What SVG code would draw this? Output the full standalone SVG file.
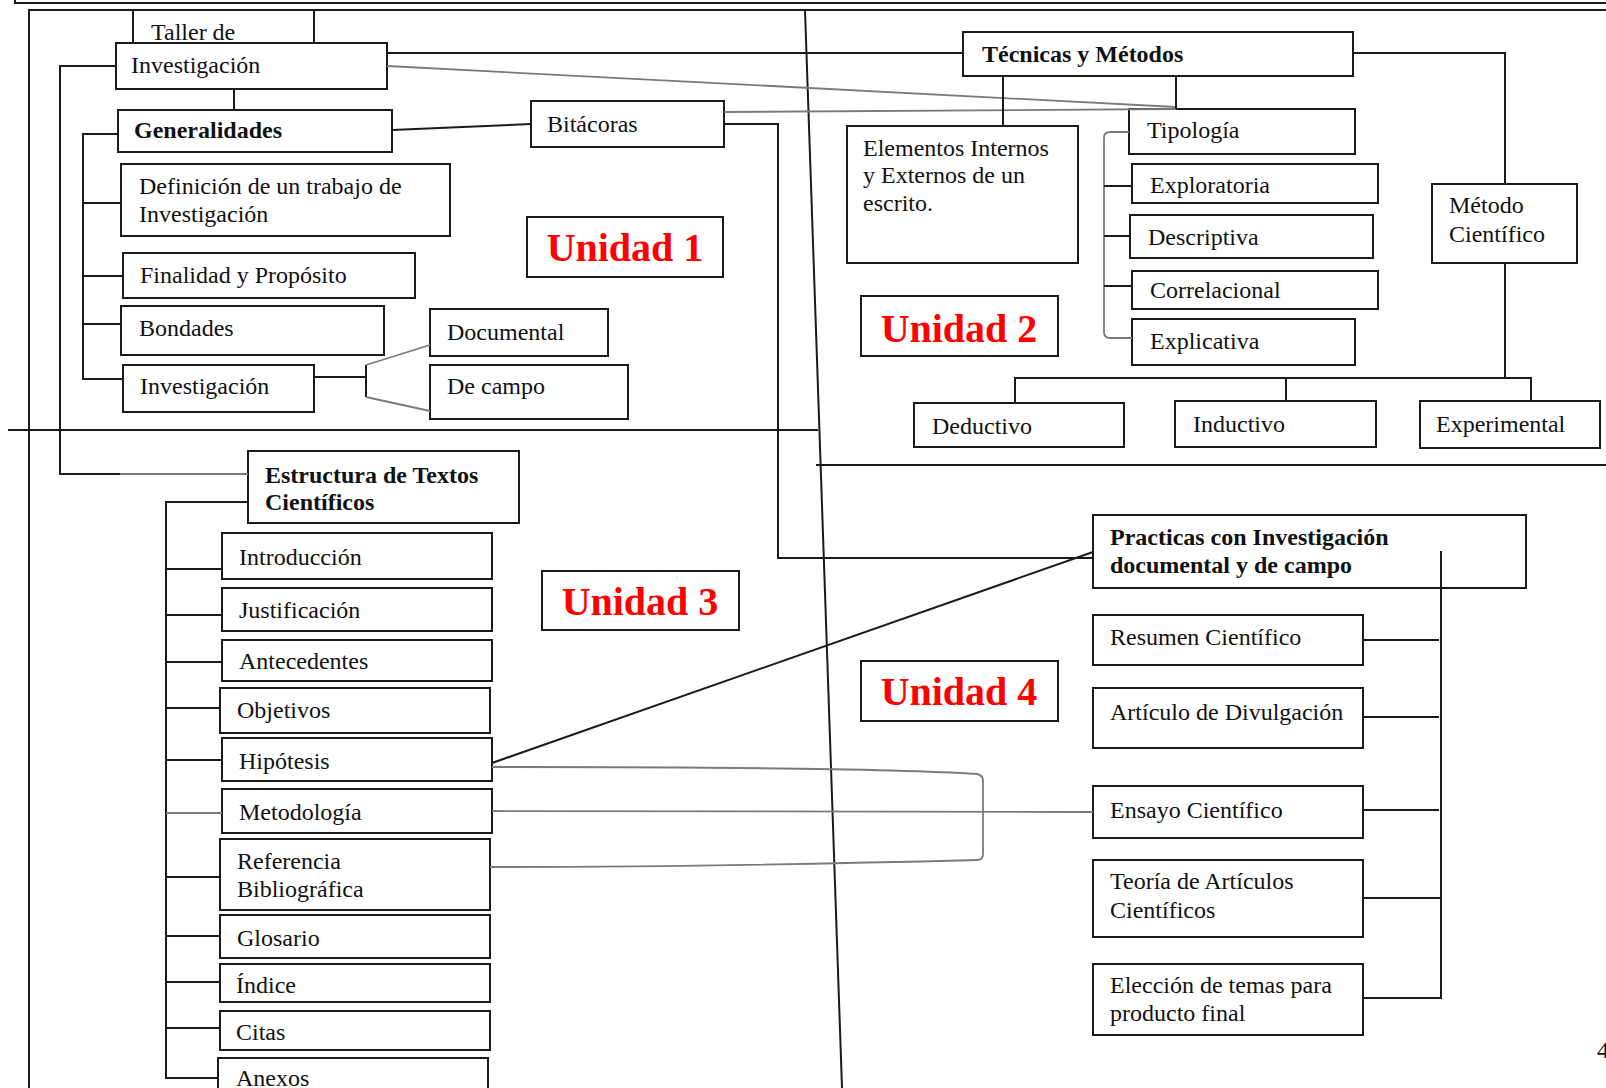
<svg xmlns="http://www.w3.org/2000/svg" width="1606" height="1088" viewBox="0 0 1606 1088">
<style>
.box{fill:#fff;stroke:#1a1a1a;stroke-width:2}
.t{font-family:"Liberation Serif","Times New Roman",serif;font-size:24px;fill:#111}
.b{font-weight:bold}
.u{font-family:"Liberation Serif","Times New Roman",serif;font-size:40px;font-weight:bold;fill:#ff0000;text-anchor:middle}
.ln{stroke:#1a1a1a;stroke-width:2;fill:none}
.gl{stroke:#7a7a7a;stroke-width:1.8;fill:none}
</style>
<rect x="0" y="0" width="1606" height="1088" fill="#fff"/>
<g id="frame">
<path class="ln" d="M15 0 V3 H1606"/>
<path class="ln" d="M29 1088 V10 H1606"/>
<path class="ln" d="M8 430 H818"/>
<path class="ln" d="M816 465 H1606"/>
<path class="ln" d="M805 10 L842 1088" stroke-width="1.6"/>
</g>
<g id="taller">
<rect class="box" x="133" y="10" width="181" height="50"/>
<text class="t" x="151" y="40">Taller de</text>
</g>
<g id="investigacion">
<rect class="box" x="116" y="43" width="271" height="46"/>
<text class="t" x="131" y="73">Investigación</text>
</g>
<g id="generalidades">
<rect class="box" x="118" y="110" width="274" height="42"/>
<text class="t b" x="134" y="138">Generalidades</text>
</g>
<g id="bitacoras">
<rect class="box" x="531" y="101" width="193" height="46"/>
<text class="t" x="547" y="132">Bitácoras</text>
</g>
<g id="definicion">
<rect class="box" x="121" y="164" width="329" height="72"/>
<text class="t" x="139" y="194">Definición de un trabajo de</text>
<text class="t" x="139" y="222">Investigación</text>
</g>
<g id="finalidad">
<rect class="box" x="123" y="253" width="292" height="45"/>
<text class="t" x="140" y="283">Finalidad y Propósito</text>
</g>
<g id="bondades">
<rect class="box" x="121" y="306" width="263" height="49"/>
<text class="t" x="139" y="336">Bondades</text>
</g>
<g id="investigacion2">
<rect class="box" x="123" y="365" width="191" height="47"/>
<text class="t" x="140" y="394">Investigación</text>
</g>
<g id="documental">
<rect class="box" x="430" y="309" width="178" height="47"/>
<text class="t" x="447" y="340">Documental</text>
</g>
<g id="decampo">
<rect class="box" x="430" y="365" width="198" height="54"/>
<text class="t" x="447" y="394">De campo</text>
</g>
<g id="unidad1">
<rect class="box" x="527" y="217" width="196" height="60"/>
<text class="u" x="625" y="261">Unidad 1</text>
</g>
<g id="tecnicas">
<rect class="box" x="963" y="32" width="390" height="44"/>
<text class="t b" x="982" y="62">Técnicas y Métodos</text>
</g>
<g id="elementos">
<rect class="box" x="847" y="126" width="231" height="137"/>
<text class="t" x="863" y="156">Elementos Internos</text>
<text class="t" x="863" y="183">y Externos de un</text>
<text class="t" x="863" y="211">escrito.</text>
</g>
<g id="tipologia">
<rect class="box" x="1129" y="109" width="226" height="45"/>
<text class="t" x="1147" y="138">Tipología</text>
</g>
<g id="exploratoria">
<rect class="box" x="1132" y="164" width="246" height="39"/>
<text class="t" x="1150" y="193">Exploratoria</text>
</g>
<g id="descriptiva">
<rect class="box" x="1130" y="215" width="243" height="43"/>
<text class="t" x="1148" y="245">Descriptiva</text>
</g>
<g id="correlacional">
<rect class="box" x="1132" y="271" width="246" height="38"/>
<text class="t" x="1150" y="298">Correlacional</text>
</g>
<g id="explicativa">
<rect class="box" x="1132" y="319" width="223" height="46"/>
<text class="t" x="1150" y="349">Explicativa</text>
</g>
<g id="metodo">
<rect class="box" x="1432" y="184" width="145" height="79"/>
<text class="t" x="1449" y="213">Método</text>
<text class="t" x="1449" y="242">Científico</text>
</g>
<g id="unidad2">
<rect class="box" x="861" y="296" width="197" height="60"/>
<text class="u" x="959" y="342">Unidad 2</text>
</g>
<g id="deductivo">
<rect class="box" x="914" y="403" width="210" height="44"/>
<text class="t" x="932" y="434">Deductivo</text>
</g>
<g id="inductivo">
<rect class="box" x="1175" y="401" width="201" height="46"/>
<text class="t" x="1193" y="432">Inductivo</text>
</g>
<g id="experimental">
<rect class="box" x="1420" y="401" width="180" height="47"/>
<text class="t" x="1436" y="432">Experimental</text>
</g>
<g id="estructura">
<rect class="box" x="248" y="451" width="271" height="72"/>
<text class="t b" x="265" y="483">Estructura de Textos</text>
<text class="t b" x="265" y="510">Científicos</text>
</g>
<g id="introduccion">
<rect class="box" x="222" y="533" width="270" height="46"/>
<text class="t" x="239" y="565">Introducción</text>
</g>
<g id="justificacion">
<rect class="box" x="222" y="588" width="270" height="43"/>
<text class="t" x="239" y="618">Justificación</text>
</g>
<g id="antecedentes">
<rect class="box" x="222" y="640" width="270" height="41"/>
<text class="t" x="239" y="669">Antecedentes</text>
</g>
<g id="objetivos">
<rect class="box" x="220" y="688" width="270" height="45"/>
<text class="t" x="237" y="718">Objetivos</text>
</g>
<g id="hipotesis">
<rect class="box" x="222" y="738" width="270" height="43"/>
<text class="t" x="239" y="769">Hipótesis</text>
</g>
<g id="metodologia">
<rect class="box" x="222" y="789" width="270" height="44"/>
<text class="t" x="239" y="820">Metodología</text>
</g>
<g id="referencia">
<rect class="box" x="220" y="839" width="270" height="71"/>
<text class="t" x="237" y="869">Referencia</text>
<text class="t" x="237" y="897">Bibliográfica</text>
</g>
<g id="glosario">
<rect class="box" x="220" y="915" width="270" height="43"/>
<text class="t" x="237" y="946">Glosario</text>
</g>
<g id="indice">
<rect class="box" x="220" y="964" width="270" height="38"/>
<text class="t" x="236" y="993">Índice</text>
</g>
<g id="citas">
<rect class="box" x="220" y="1011" width="270" height="39"/>
<text class="t" x="236" y="1040">Citas</text>
</g>
<g id="anexos">
<rect class="box" x="218" y="1058" width="270" height="40"/>
<text class="t" x="236" y="1086">Anexos</text>
</g>
<g id="unidad3">
<rect class="box" x="542" y="571" width="197" height="59"/>
<text class="u" x="640" y="615">Unidad 3</text>
</g>
<g id="practicas">
<rect class="box" x="1093" y="515" width="433" height="73"/>
<text class="t b" x="1110" y="545">Practicas con Investigación</text>
<text class="t b" x="1110" y="573">documental y de campo</text>
</g>
<g id="resumen">
<rect class="box" x="1093" y="615" width="270" height="50"/>
<text class="t" x="1110" y="645">Resumen Científico</text>
</g>
<g id="articulo">
<rect class="box" x="1093" y="688" width="270" height="60"/>
<text class="t" x="1110" y="720">Artículo de Divulgación</text>
</g>
<g id="ensayo">
<rect class="box" x="1093" y="786" width="270" height="52"/>
<text class="t" x="1110" y="818">Ensayo Científico</text>
</g>
<g id="teoria">
<rect class="box" x="1093" y="860" width="270" height="77"/>
<text class="t" x="1110" y="889">Teoría de Artículos</text>
<text class="t" x="1110" y="918">Científicos</text>
</g>
<g id="eleccion">
<rect class="box" x="1093" y="964" width="270" height="71"/>
<text class="t" x="1110" y="993">Elección de temas para</text>
<text class="t" x="1110" y="1021">producto final</text>
</g>
<g id="unidad4">
<rect class="box" x="861" y="661" width="197" height="60"/>
<text class="u" x="959" y="705">Unidad 4</text>
</g>
<text class="t" x="1597" y="1058" font-size="20">4</text>
<g id="connectors">
<path class="ln" d="M116 66 H60 V474 H120"/>
<path class="gl" d="M120 474 H248"/>
<path class="ln" d="M387 53 H963"/>
<path class="gl" d="M387 66 L1176 107"/>
<path class="gl" d="M724 112 L1176 109"/>
<path class="ln" d="M234 89 V110"/>
<path class="ln" d="M392 130 L531 124"/>
<path class="ln" d="M724 124 H778 V558 H1093"/>
<path class="ln" d="M118 134 H83 V379 H123"/>
<path class="ln" d="M83 203 H121 M83 276 H123 M83 324 H121"/>
<path class="ln" d="M314 377 H366 M366 365 V397"/>
<path class="gl" d="M366 365 L430 345 M366 397 L430 411"/>
<path class="ln" d="M1003 76 V126 M1176 76 V109"/>
<path class="ln" d="M1353 53 H1505 V184 M1505 263 V378"/>
<path class="ln" d="M1015 403 V378 H1531 V401 M1286 378 V401"/>
<path class="gl" d="M1129 132 H1110 Q1104 132 1104 138 V332 Q1104 338 1110 338 H1132"/>
<path class="ln" d="M1104 186 H1132 M1104 236 H1130 M1104 286 H1132"/>
<path class="ln" d="M248 502 H166 V1078 H218"/>
<path class="ln" d="M166 569 H222 M166 615 H222 M166 662 H222 M166 708 H220 M166 760 H222 M166 877 H220 M166 936 H220 M166 982 H220 M166 1028 H220"/>
<path class="gl" d="M166 813 H222"/>
<path class="ln" d="M492 763 L1093 552" stroke-width="1.6"/>
<path class="gl" d="M492 767 C700 767 900 769 977 774 Q983 775 983 781 V854 Q983 860 977 860 C900 862 700 867 490 867"/>
<path class="gl" d="M492 811 L1093 812"/>
<path class="ln" d="M1441 551 V998 H1363"/>
<path class="ln" d="M1363 640 H1439 M1363 717 H1439 M1363 810 H1439 M1363 898 H1441"/>
</g>
</svg>
